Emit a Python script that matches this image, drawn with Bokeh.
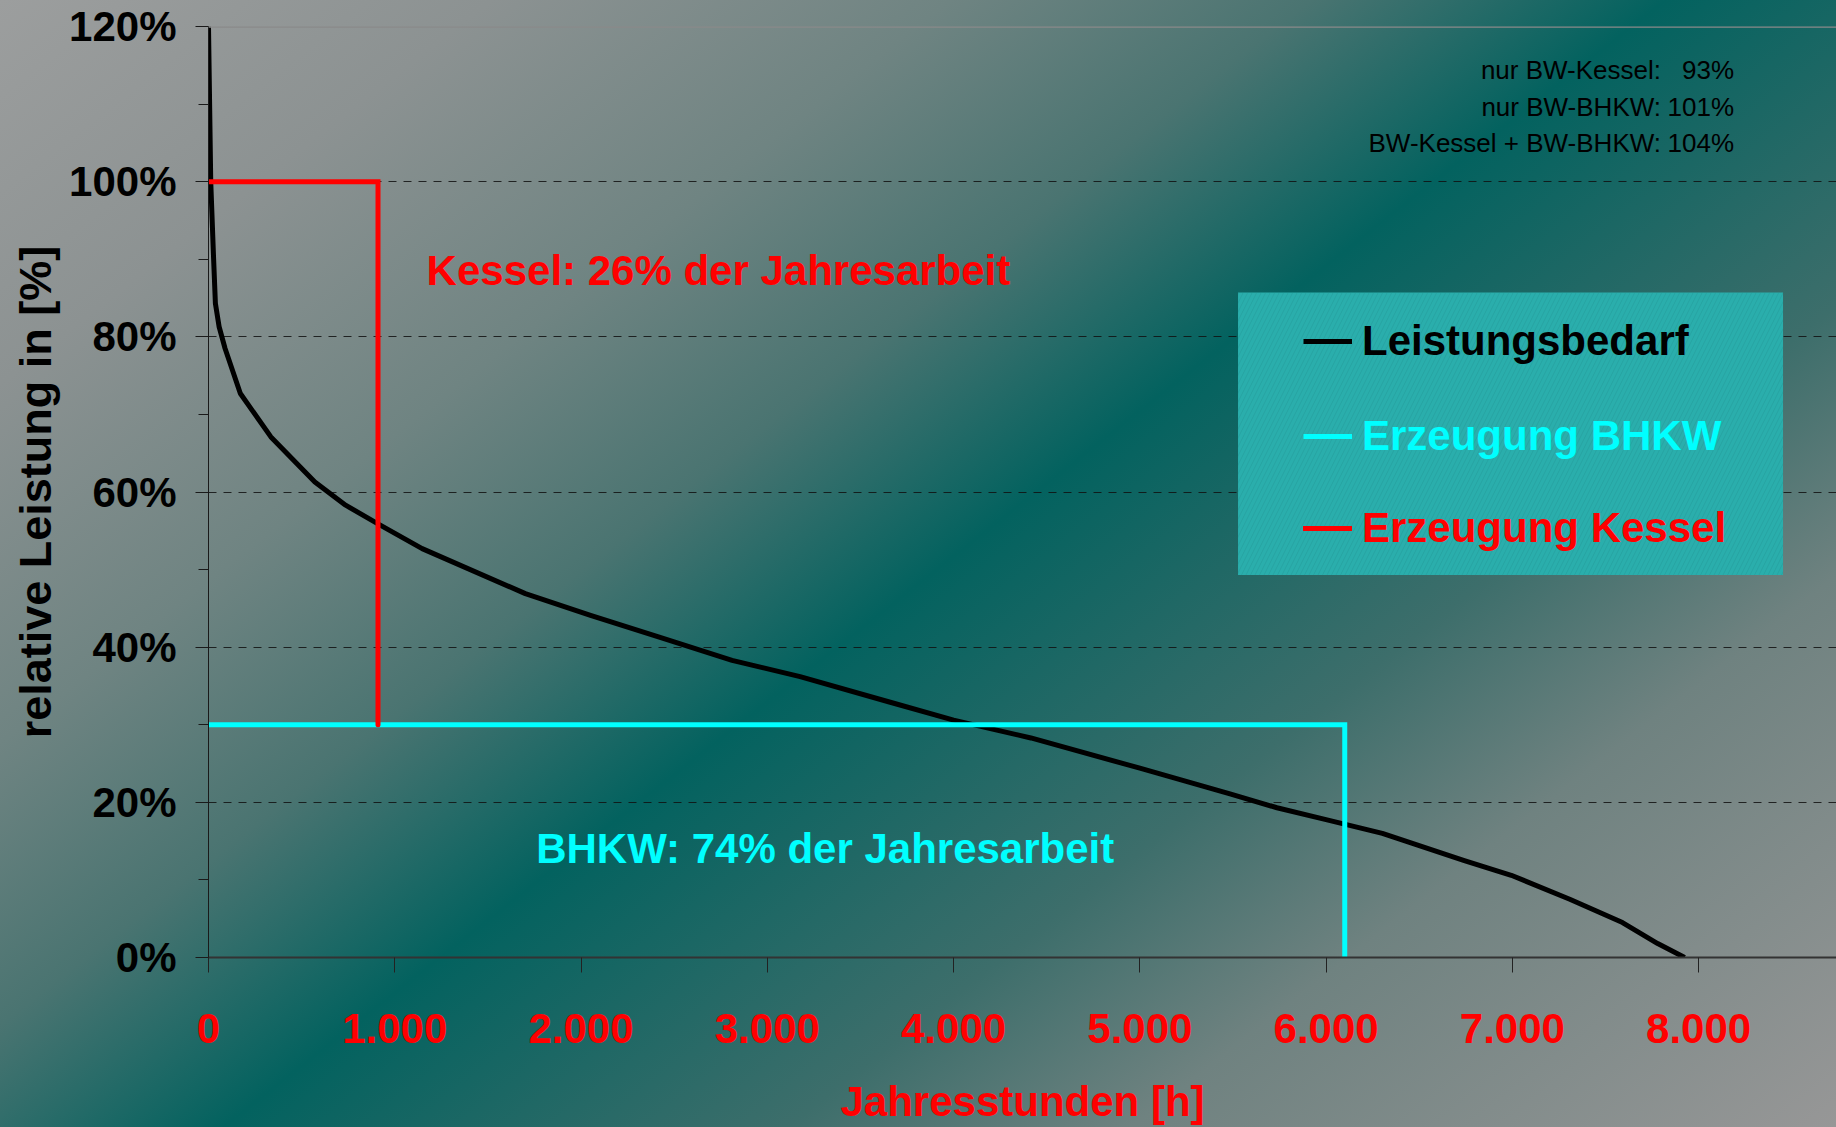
from bokeh.plotting import figure
from bokeh.models import (Range1d, FixedTicker, Span, Label, BoxAnnotation,
                          Legend, LegendItem)
from bokeh.embed import file_html
from bokeh.resources import INLINE

# ---------------- data ----------------
demand_hours = [0, 12, 27, 37, 57, 89, 171, 335, 571, 736, 910, 1147, 1701, 2051, 2420,
                2811, 3176, 3660, 4000, 4415, 5000, 5484, 5736, 5994, 6302, 6742, 6994,
                7308, 7591, 7780, 7925]
demand_share = [120, 100, 90.3, 84.3, 81.3, 78.5, 72.7, 67.1, 61.3, 58.3, 55.9, 52.7, 46.9,
                44.1, 41.3, 38.3, 36.2, 32.9, 30.6, 28.3, 24.4, 21.1, 19.3, 17.8, 16.0,
                12.5, 10.6, 7.5, 4.5, 1.8, 0.0]

chp_hours = [0, 6100, 6100]
chp_share = [30, 30, 0]

boiler_hours = [0, 910, 910]
boiler_share = [100, 100, 30]

x_ticks = [0, 1000, 2000, 3000, 4000, 5000, 6000, 7000, 8000]
x_tick_labels = ["0", "1.000", "2.000", "3.000", "4.000", "5.000", "6.000", "7.000", "8.000"]
y_ticks = [0, 20, 40, 60, 80, 100, 120]
y_tick_labels = ["0%", "20%", "40%", "60%", "80%", "100%", "120%"]
y_minor_ticks = [10, 30, 50, 70, 90, 110]
grid_levels = [20, 40, 60, 80, 100]

x_title = "Jahresstunden [h]"
y_title = "relative Leistung in [%]"
legend_labels = ["Leistungsbedarf", "Erzeugung BHKW", "Erzeugung Kessel"]
share_texts = ["Kessel: 26% der Jahresarbeit", "BHKW: 74% der Jahresarbeit"]
note_labels = ["nur BW-Kessel:", "nur BW-BHKW:", "BW-Kessel + BW-BHKW:"]
note_values = ["93%", "101%", "104%"]

# ---------------- styling ----------------
SANS = "Liberation Sans"
BIG = "42px"
RED = "#ff0000"
CYAN = "#00ffff"
X_MAX = 8740

p = figure(width=1836, height=1127, x_range=Range1d(0, X_MAX), y_range=Range1d(0, 120),
           output_backend="svg", toolbar_location=None,
           min_border_left=208, min_border_right=0, min_border_top=26, min_border_bottom=169)
p.background_fill_color = None
p.border_fill_color = None
p.outline_line_color = None
p.styles = {"background": ("linear-gradient(142deg, #9c9e9e 0%, #8c9292 15%, #6f8482 29%, "
                           "#4a7471 40%, #03625f 50.8%, #3d6e6b 68%, #6f8280 78.5%, "
                           "#979797 100%)")}

# grid
p.xgrid.grid_line_color = None
p.ygrid.ticker = FixedTicker(ticks=grid_levels)
p.ygrid.grid_line_color = "#111111"
p.ygrid.grid_line_dash = "8 7"
p.ygrid.grid_line_width = 1
p.ygrid.grid_line_alpha = 0.85

p.add_layout(Span(location=120, dimension="width", line_color="#8a8a8a", line_width=2.5))

# axes
xa = p.xaxis[0]
xa.ticker = FixedTicker(ticks=x_ticks)
xa.major_label_overrides = dict(zip(x_ticks, x_tick_labels))
xa.axis_line_color = "#333333"
xa.axis_line_width = 2
xa.major_tick_line_color = "#222222"
xa.major_tick_out = 15
xa.major_tick_in = 0
xa.minor_tick_line_color = None
xa.major_label_standoff = 41
xa.major_label_text_font = SANS
xa.major_label_text_font_size = BIG
xa.major_label_text_font_style = "bold"
xa.major_label_text_color = RED
xa.axis_label = x_title
xa.axis_label_text_font = SANS
xa.axis_label_text_font_size = BIG
xa.axis_label_text_font_style = "bold"
xa.axis_label_text_color = RED
xa.axis_label_standoff = 32

ya = p.yaxis[0]
ya.ticker = FixedTicker(ticks=y_ticks, minor_ticks=y_minor_ticks)
ya.major_label_overrides = dict(zip(y_ticks, y_tick_labels))
ya.axis_line_color = "#1a1a1a"
ya.axis_line_width = 1
ya.major_tick_line_color = "#1a1a1a"
ya.minor_tick_line_color = "#1a1a1a"
ya.major_tick_out = 13
ya.major_tick_in = 0
ya.minor_tick_out = 10
ya.minor_tick_in = 0
ya.major_label_standoff = 19
ya.major_label_text_font = SANS
ya.major_label_text_font_size = BIG
ya.major_label_text_font_style = "bold"
ya.major_label_text_color = "black"
ya.axis_label = y_title
ya.axis_label_text_font = SANS
ya.axis_label_text_font_size = "45px"
ya.axis_label_text_font_style = "bold"
ya.axis_label_text_color = "black"
ya.axis_label_standoff = 5

# legend background box
p.add_layout(BoxAnnotation(left=5527, right=8453, top=85.7, bottom=49.3,
                           fill_color="#2aaeac", fill_alpha=1.0, line_color=None,
                           hatch_pattern="/", hatch_color="#1c8886", hatch_alpha=0.35,
                           hatch_scale=9, hatch_weight=0.8))

# series
r_demand = p.line(demand_hours, demand_share, line_color="black", line_width=5, line_join="round")
r_chp = p.line(chp_hours, chp_share, line_color=CYAN, line_width=5, line_join="miter")
r_boiler = p.line(boiler_hours, boiler_share, line_color=RED, line_width=5,
                  line_join="miter", line_cap="round")

# legends (one per entry to allow individual text colours)
leg_colors = ["black", CYAN, RED]
leg_renderers = [r_demand, r_chp, r_boiler]
leg_vy = [586, 491, 399]
for lab, col, rend, vy in zip(legend_labels, leg_colors, leg_renderers, leg_vy):
    lg = Legend(items=[LegendItem(label=lab, renderers=[rend])], location=(1095, vy),
                orientation="vertical", padding=0, margin=0, spacing=0,
                glyph_width=49, glyph_height=60, label_height=60, label_standoff=10,
                background_fill_alpha=0, border_line_color=None,
                label_text_font=SANS, label_text_font_size=BIG,
                label_text_font_style="bold", label_text_color=col)
    p.add_layout(lg)

# share annotations
p.add_layout(Label(x=1171, y=88.5, text=share_texts[0], text_color=RED,
                   text_font=SANS, text_font_size=BIG, text_font_style="bold",
                   text_align="left", text_baseline="alphabetic"))
p.add_layout(Label(x=1759, y=14.1, text=share_texts[1], text_color=CYAN,
                   text_font=SANS, text_font_size=BIG, text_font_style="bold",
                   text_align="left", text_baseline="alphabetic"))

# notes at top right
note_y = [114.4, 109.6, 105.0]
for lab, val, yy in zip(note_labels, note_values, note_y):
    p.add_layout(Label(x=7798, y=yy, text=lab, text_color="black",
                       text_font=SANS, text_font_size="26px",
                       text_align="right", text_baseline="alphabetic"))
    p.add_layout(Label(x=8190, y=yy, text=val, text_color="black",
                       text_font=SANS, text_font_size="26px",
                       text_align="right", text_baseline="alphabetic"))

open("out.html", "w").write(file_html(p, INLINE))
